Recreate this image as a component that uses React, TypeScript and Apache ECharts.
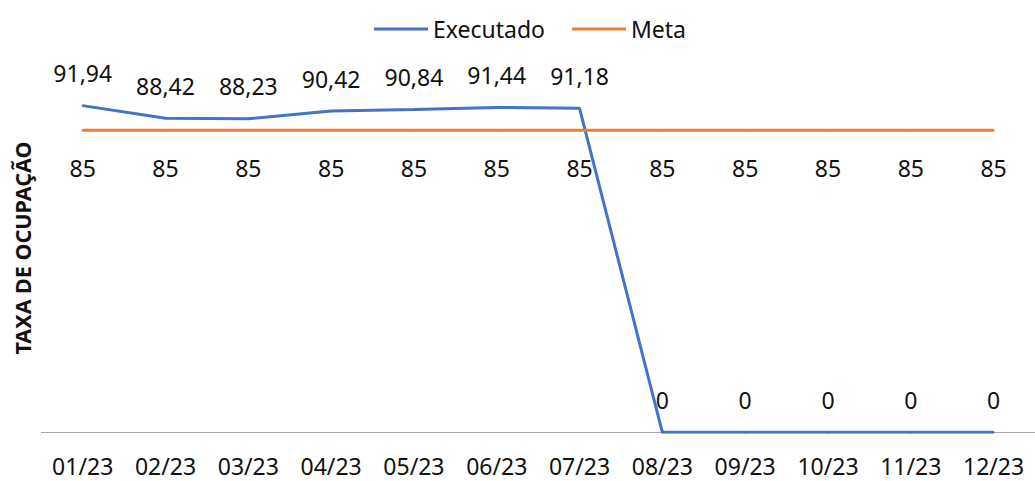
import React, { useEffect, useRef } from "react";
import * as echarts from "echarts";

const categories = ["01/23", "02/23", "03/23", "04/23", "05/23", "06/23", "07/23", "08/23", "09/23", "10/23", "11/23", "12/23"];
const executado = [91.94, 88.42, 88.23, 90.42, 90.84, 91.44, 91.18, 0, 0, 0, 0, 0];
const meta = [85, 85, 85, 85, 85, 85, 85, 85, 85, 85, 85, 85];
const yAxisTitle = "TAXA DE OCUPAÇÃO";

const FONT = "'Noto Sans', sans-serif";
const fmt = (v: number) => (v === 0 ? "0" : Number.isInteger(v) ? String(v) : v.toFixed(2).replace(".", ","));

export default function App() {
  const ref = useRef<HTMLDivElement>(null);
  useEffect(() => {
    if (!ref.current) return;
    const chart = echarts.init(ref.current, undefined, { renderer: "svg" });
    chart.setOption({
      animation: false,
      backgroundColor: "#ffffff",
      textStyle: { fontFamily: FONT },
      legend: {
        left: 369,
        top: 12,
        itemWidth: 54,
        itemHeight: 3,
        itemGap: 27,
        icon: "rect",
        textStyle: { fontFamily: FONT, fontSize: 23, color: "#111", lineHeight: 24, padding: [0, 0, 0, 0] },
        data: ["Executado", "Meta"],
      },
      grid: { left: 41.3, top: 77, width: 1000.8, height: 355.3, containLabel: false },
      xAxis: {
        type: "category",
        data: categories,
        boundaryGap: true,
        axisLine: { show: true, lineStyle: { color: "#A6A6A6", width: 1 } },
        axisTick: { show: false },
        axisLabel: { fontFamily: FONT, fontSize: 23, color: "#111", margin: 22, lineHeight: 23, interval: 0 },
        splitLine: { show: false },
      },
      yAxis: {
        type: "value",
        min: 0,
        max: 100,
        show: false,
        splitLine: { show: false },
      },
      graphic: [
        {
          type: "text",
          x: 22,
          y: 248,
          rotation: Math.PI / 2,
          style: {
            text: yAxisTitle,
            font: `bold 21.5px ${FONT}`,
            fill: "#111",
            align: "center",
            verticalAlign: "middle",
          },
        },
      ],
      series: [
        {
          name: "Executado",
          type: "line",
          data: executado,
          color: "#4472C4",
          lineStyle: { color: "#4472C4", width: 3 },
          symbol: "circle",
          symbolSize: 2,
          showSymbol: true,
          itemStyle: { color: "#4472C4" },
          label: {
            show: true,
            position: "top",
            distance: 20,
            fontFamily: FONT,
            fontSize: 23,
            lineHeight: 23,
            color: "#111",
            formatter: (p: any) => fmt(p.value),
          },
        },
        {
          name: "Meta",
          type: "line",
          data: meta,
          color: "#ED7D31",
          lineStyle: { color: "#ED7D31", width: 3 },
          symbol: "circle",
          symbolSize: 2,
          showSymbol: true,
          itemStyle: { color: "#ED7D31" },
          label: {
            show: true,
            position: "bottom",
            distance: 25,
            fontFamily: FONT,
            fontSize: 23,
            lineHeight: 23,
            color: "#111",
            formatter: (p: any) => fmt(p.value),
          },
        },
      ],
    });
    return () => chart.dispose();
  }, []);
  return (
    <div
      ref={ref}
      style={{ position: "fixed", left: 0, top: 0, width: 1035, height: 481, background: "#fff" }}
    />
  );
}
